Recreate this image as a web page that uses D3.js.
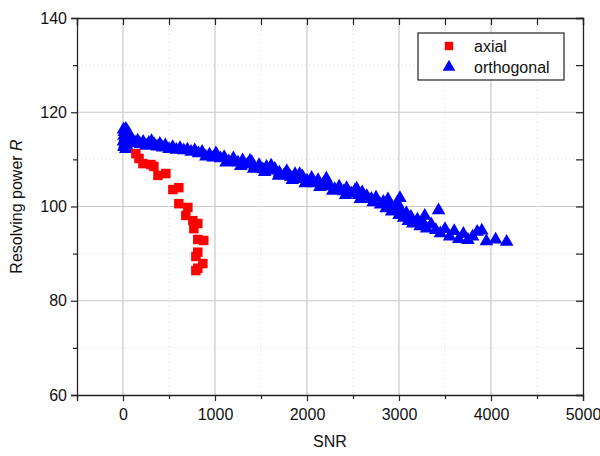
<!DOCTYPE html>
<html>
<head>
<meta charset="utf-8">
<script src="https://cdn.jsdelivr.net/npm/d3@7"></script>
<style>
  body { margin: 0; background: #fff; }
  text { font-family: "Liberation Sans", Arial, sans-serif; fill: #111; }
</style>
</head>
<body>
<div id="chart"></div>
<script>
// axial data (SNR, resolving power)
var axialSNR = [140, 174, 217, 304, 336, 380, 466, 542, 607, 607, 705, 683, 759, 813, 770, 813, 878, 813, 792, 868, 813, 792];
var axialR = [111.2, 110.2, 109.1, 108.9, 108.5, 106.6, 107.0, 103.6, 104.0, 100.6, 99.8, 98.1, 97.0, 96.4, 95.3, 93.0, 92.8, 90.3, 89.4, 87.9, 86.9, 86.4];

// orthogonal data
var orthoSNR = [5, 15, 30, 45, 60, 10, 25, 40, 55, 70, 5, 20, 35, 50, 65, 80, 10, 30, 15, 45, 90, 100,
  130, 160, 190, 220, 250, 280, 310, 340, 370, 400, 430, 460, 500, 540, 580, 620, 660, 700, 740, 780,
  820, 860, 900, 940, 980, 1020, 1060, 1100, 1150, 1200, 1250, 1300, 1350, 1400, 1430, 1480, 1520, 1560,
  1600, 1650, 1700, 1750, 1780, 1820, 1870, 1900, 1950, 2000, 2050, 2080, 2120, 2170, 2200, 2250, 2300,
  2350, 2400, 2430, 2480, 2520, 2560, 2600, 2650, 2700, 2750, 2800, 2830, 2860, 2880, 2900, 2920, 2950,
  2980, 3010, 3000, 3020, 3050, 3080, 3100, 3130, 3150, 3200, 3230, 3260, 3280, 3300, 3350, 3400, 3430,
  3450, 3500, 3550, 3600, 3650, 3700, 3750, 3800, 3850, 3900, 3950, 4050, 4170,
  1120, 1280, 1420, 1540, 1690, 1840, 1980, 2140, 2280, 2420, 2580, 2720, 1010, 1380, 1610, 1920, 2210, 2540];
var orthoR = [116.3, 115.8, 116.5, 116.0, 115.5, 115.0, 114.6, 114.2, 114.8, 115.2, 113.8, 113.3, 113.0, 113.6, 114.0, 114.4, 112.6, 112.2, 112.9, 112.6, 113.4, 114.0,
  113.6, 114.0, 113.2, 113.7, 112.9, 113.5, 113.9, 113.2, 112.7, 113.3, 112.5, 113.0, 112.2, 112.6, 112.0, 112.4, 111.9, 112.1, 111.6, 111.9,
  111.3, 111.6, 110.6, 111.0, 110.4, 110.8, 110.2, 110.5, 109.6, 110.2, 109.3, 109.8, 108.9, 109.4, 108.3, 108.8, 107.9, 108.4,
  107.6, 108.0, 107.2, 106.6, 107.5, 106.3, 106.9, 105.8, 106.4, 105.5, 106.1, 104.9, 105.6, 104.6, 105.3, 104.3, 103.7,
  104.2, 103.2, 103.9, 102.8, 103.4, 102.4, 103.0, 102.2, 101.6, 101.9, 100.4, 101.0, 99.6, 101.5, 100.2, 98.9, 99.6,
  100.8, 101.8, 98.2, 99.3, 97.6, 98.6, 96.9, 97.8, 96.4, 97.2, 95.8, 96.6, 98.0, 95.3, 96.2, 95.0, 99.2,
  94.3, 95.2, 93.6, 94.8, 93.1, 94.2, 92.9, 93.6, 94.6, 94.9, 92.6, 93.0, 92.5,
  109.3, 108.6, 108.0, 107.3, 106.5, 105.6, 104.9, 104.1, 103.3, 102.4, 101.6, 100.9, 111.3, 109.7, 108.7, 106.9, 105.9, 103.8];

var xTicks = [0, 1000, 2000, 3000, 4000, 5000];
var yTicks = [60, 80, 100, 120, 140];

var svgWidth = 600;
var svgHeight = 456;
var margin = { top: 18, right: 17, bottom: 61, left: 77 };
var width = svgWidth - margin.left - margin.right;
var height = svgHeight - margin.top - margin.bottom;

var svg = d3.select("#chart")
  .append("svg")
  .attr("width", svgWidth)
  .attr("height", svgHeight);

var chartGroup = svg.append("g")
  .attr("transform", `translate(${margin.left}, ${margin.top})`);

var xScale = d3.scaleLinear().domain([-500, 5000]).range([0, width]);
var yScale = d3.scaleLinear().domain([60, 140]).range([height, 0]);

// grid lines
var xMinor = d3.range(-500, 5001, 500).filter(d => xTicks.indexOf(d) < 0 && d > -500 && d < 5000);
var yMinor = d3.range(70, 140, 20);

chartGroup.selectAll(".gx").data(xTicks.filter(d => d < 5000)).enter()
  .append("line")
  .attr("x1", d => xScale(d)).attr("x2", d => xScale(d))
  .attr("y1", 0).attr("y2", height)
  .attr("stroke", "#c8c8c8").attr("stroke-width", 1.2);

chartGroup.selectAll(".gy").data(yTicks.filter(d => d > 60 && d < 140)).enter()
  .append("line")
  .attr("x1", 0).attr("x2", width)
  .attr("y1", d => yScale(d)).attr("y2", d => yScale(d))
  .attr("stroke", "#c8c8c8").attr("stroke-width", 1.2);

chartGroup.selectAll(".gxm").data(xMinor).enter()
  .append("line")
  .attr("x1", d => xScale(d)).attr("x2", d => xScale(d))
  .attr("y1", 0).attr("y2", height)
  .attr("stroke", "#dddddd").attr("stroke-dasharray", "1,3");

chartGroup.selectAll(".gym").data(yMinor).enter()
  .append("line")
  .attr("x1", 0).attr("x2", width)
  .attr("y1", d => yScale(d)).attr("y2", d => yScale(d))
  .attr("stroke", "#dddddd").attr("stroke-dasharray", "1,3");

// axes
var allX = d3.range(-500, 5001, 500);
var allY = d3.range(60, 141, 10);

var bottomAxis = d3.axisBottom(xScale).tickValues(allX)
  .tickSize(6).tickPadding(8)
  .tickFormat(d => xTicks.indexOf(d) >= 0 ? d : "");
var leftAxis = d3.axisLeft(yScale).tickValues(allY)
  .tickSize(6).tickPadding(4)
  .tickFormat(d => yTicks.indexOf(d) >= 0 ? d : "");
var topAxis = d3.axisTop(xScale).tickValues(allX).tickSize(-7).tickFormat("");
var rightAxis = d3.axisRight(yScale).tickValues(allY).tickSize(-7).tickFormat("");

var xAxis = chartGroup.append("g")
  .attr("transform", `translate(0, ${height})`)
  .call(bottomAxis);
var yAxis = chartGroup.append("g").call(leftAxis);
chartGroup.append("g").call(topAxis);
chartGroup.append("g").attr("transform", `translate(${width}, 0)`).call(rightAxis);

chartGroup.selectAll(".domain").attr("stroke", "#222").attr("stroke-width", 1.3);
chartGroup.selectAll(".tick line").attr("stroke", "#222").attr("stroke-width", 1.2);
chartGroup.selectAll(".tick text").attr("font-size", "16px").attr("fill", "#111");

// short minor ticks
xAxis.selectAll(".tick").filter(d => xTicks.indexOf(d) < 0).select("line").attr("y2", 4);
yAxis.selectAll(".tick").filter(d => yTicks.indexOf(d) < 0).select("line").attr("x2", -4);

// axis labels
chartGroup.append("text")
  .attr("x", width / 2)
  .attr("y", height + 52)
  .attr("text-anchor", "middle")
  .attr("font-size", "16px")
  .text("SNR");

var yLabel = chartGroup.append("text")
  .attr("transform", "rotate(-90)")
  .attr("x", -(height / 2))
  .attr("y", -55)
  .attr("text-anchor", "middle")
  .attr("font-size", "16px");
yLabel.append("tspan").text("Resolving power ");
yLabel.append("tspan").attr("font-style", "italic").text("R");

// points
var axialData = axialSNR.map((d, i) => ({ snr: d, r: axialR[i] }));
var orthoData = orthoSNR.map((d, i) => ({ snr: d, r: orthoR[i] }));

var triangle = d3.symbol().type(d3.symbolTriangle).size(80);
var square = d3.symbol().type(d3.symbolSquare).size(90);

chartGroup.selectAll(".ortho")
  .data(orthoData)
  .enter()
  .append("path")
  .attr("d", triangle)
  .attr("transform", d => `translate(${xScale(d.snr)}, ${yScale(d.r)})`)
  .attr("fill", "#0000ff");

chartGroup.selectAll(".axial")
  .data(axialData)
  .enter()
  .append("path")
  .attr("d", square)
  .attr("transform", d => `translate(${xScale(d.snr)}, ${yScale(d.r)})`)
  .attr("fill", "#ff0000");

// legend
var legend = svg.append("g").attr("transform", "translate(418, 33)");
legend.append("rect")
  .attr("width", 146).attr("height", 47)
  .attr("fill", "#fff").attr("stroke", "#222").attr("stroke-width", 1.2);
legend.append("path").attr("d", d3.symbol().type(d3.symbolSquare).size(70)).attr("transform", "translate(31, 13)").attr("fill", "#ff0000");
legend.append("path").attr("d", d3.symbol().type(d3.symbolTriangle).size(70)).attr("transform", "translate(31, 34)").attr("fill", "#0000ff");
legend.append("text").attr("x", 56).attr("y", 19).attr("font-size", "16px").text("axial");
legend.append("text").attr("x", 56).attr("y", 40).attr("font-size", "16px").text("orthogonal");
</script>
</body>
</html>
